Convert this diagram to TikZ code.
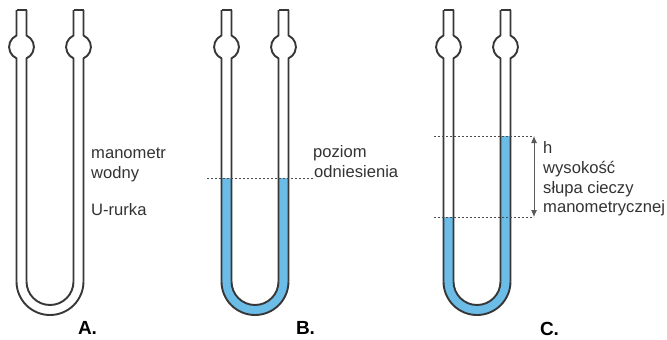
\documentclass[tikz,border=0pt]{standalone}
\usepackage{fontspec}
\setmainfont{Liberation Sans}
\usetikzlibrary{arrows.meta}
\definecolor{fluid}{RGB}{108,188,232}
\definecolor{wall}{RGB}{55,55,55}
\tikzset{
  tube/.style={draw=wall,line width=1.9pt,line join=round},
  lab/.style={anchor=base west,inner sep=0pt,font=\fontsize{16.6}{18}\selectfont,text=black!80},
  capt/.style={anchor=base,inner sep=0pt,font=\fontsize{19}{21}\bfseries\selectfont},
  waterline/.style={draw=black!70,line width=0.9pt,dash pattern=on 2pt off 2pt},
  meas/.style={draw=black!65,line width=1pt,{Latex[length=7pt,width=6pt]}-{Latex[length=7pt,width=6pt]}}
}
% #1 centre x, #2 left level y, #3 right level y
\newcommand{\ufluid}[3]{%
  \fill[fluid] (#1-33.5,#2) -- (#1-33.5,281.5) arc[start angle=180,end angle=0,radius=33.5] -- (#1+33.5,#3)
     -- (#1+23.5,#3) -- (#1+23.5,281.5) arc[start angle=0,end angle=180,radius=23.5] -- (#1-23.5,#2) -- cycle;
}
% #1 centre x
\newcommand{\utube}[1]{%
  \foreach \s in {-1,1}{%
    \draw[tube] (#1+\s*28.5-5,10) -- (#1+\s*28.5+5,10);
    \draw[tube] (#1+\s*28.5-5,10) -- (#1+\s*28.5-5,35.5)
       arc[start angle=246,end angle=114,radius=12.5] -- (#1+\s*28.5-5,281.5);
    \draw[tube] (#1+\s*28.5+5,10) -- (#1+\s*28.5+5,35.5)
       arc[start angle=-66,end angle=66,radius=12.5] -- (#1+\s*28.5+5,281.5);
  }
  \draw[tube] (#1-33.5,281.5) arc[start angle=180,end angle=0,radius=33.5];
  \draw[tube] (#1-23.5,281.5) arc[start angle=180,end angle=0,radius=23.5];
}
\begin{document}
\begin{tikzpicture}[x=1pt,y=-1pt]
\useasboundingbox (0,0) rectangle (667,340);
\fill[white] (0,0) rectangle (667,340);
\utube{50}
\ufluid{255}{178}{178}
\utube{255}
\ufluid{477}{217}{136}
\utube{477}
% labels
\node[lab] (a1) at (91,158) {manometr};
\node[lab] (a2) at (91,178) {wodny};
\node[lab] (a3) at (91,215) {U-rurka};
\node[lab] (b1) at (313,157) {poziom};
\node[lab] (b2) at (314,177) {odniesienia};
\node[lab] (c1) at (543,153) {h};
\node[lab] (c2) at (543,173) {wysokość};
\node[lab] (c3) at (543,193) {słupa cieczy};
\node[lab] (c4) at (543,212) {manometrycznej};
\node[capt] (A) at (87.5,334) {A.};
\node[capt] (B) at (305.5,334) {B.};
\node[capt] (C) at (549.5,335) {C.};
% levels
\coordinate (bl) at (207,178); \coordinate (br) at (314,178);
\coordinate (ctl) at (434,136); \coordinate (ctr) at (534,136);
\coordinate (cbl) at (434,217); \coordinate (cbr) at (534,217);
\draw[waterline] (bl) -- (br);
\draw[waterline] (ctl) -- (ctr);
\draw[waterline] (cbl) -- (cbr);
\draw[meas] (ctr) -- (cbr);
\end{tikzpicture}
\end{document}
